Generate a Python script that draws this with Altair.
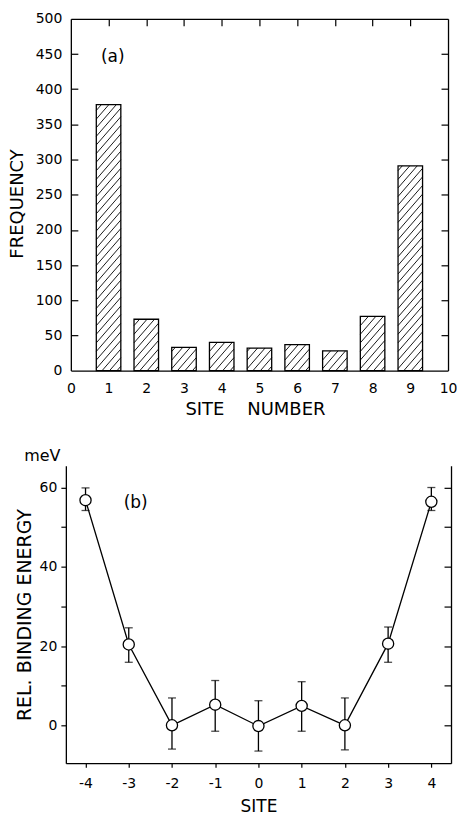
import altair as alt
import pandas as pd

FONT = "DejaVu Sans"

# ---------------- data ----------------
# Panel (a): histogram of site occupation
sites_a = [1, 2, 3, 4, 5, 6, 7, 8, 9]
freq_a = [378, 73, 33, 40, 32, 37, 28, 77, 291]

# Panel (b): relative binding energy with error bars
sites_b = [-4, -3, -2, -1, 0, 1, 2, 3, 4]
energy_b = [56.8, 20.4, 0.0, 5.2, -0.2, 4.9, 0.0, 20.6, 56.4]
err_hi_b = [59.9, 24.6, 6.9, 11.3, 6.2, 11.0, 6.9, 24.8, 60.0]
err_lo_b = [54.2, 15.9, -6.0, -1.5, -6.5, -1.5, -6.2, 15.9, 54.2]

x_ticks_a = list(range(0, 11))
y_ticks_a = list(range(0, 501, 50))
x_ticks_b = list(range(-4, 5))
y_ticks_b = list(range(0, 61, 10))

# ---------------- geometry ----------------
W_A, H_A = 378, 352.5
W_B, H_B = 381, 298
BAR_HALF = 0.325

df_a = pd.DataFrame({"site": sites_a, "freq": freq_a})
df_b = pd.DataFrame({"site": sites_b, "e": energy_b, "hi": err_hi_b, "lo": err_lo_b})

# hatch pattern lines for bars (derived from the bar data, in data units)
sx = W_A / 10.0
sy = H_A / 500.0
slope = 1.15
dh = 7.5
rows = []
for s, f in zip(sites_a, freq_a):
    X1 = (s - BAR_HALF) * sx
    w = 2 * BAR_HALF * sx
    h = f * sy
    ds = dh * slope
    k = -slope * w + ds * 0.5
    while k < h:
        u_lo = max(0.0, -k / slope)
        u_hi = min(w, (h - k) / slope)
        if u_hi > u_lo + 0.3:
            rows.append({
                "hx": (X1 + u_lo) / sx, "hy": (slope * u_lo + k) / sy,
                "hx2": (X1 + u_hi) / sx, "hy2": (slope * u_hi + k) / sy,
            })
        k += ds
df_h = pd.DataFrame(rows)

ann_a = pd.DataFrame({"x": [1.11], "y": [446], "t": ["(a)"]})
ann_b = pd.DataFrame({"x": [-2.84], "y": [56.2], "t": ["(b)"]})
unit_b = pd.DataFrame({"t": ["meV"]})

AX = dict(labelFont=FONT, labelFontSize=14, labelColor="black",
          domainColor="black", tickColor="black", domainWidth=1.3,
          tickWidth=1.2, grid=False, titleFont=FONT, titleFontSize=18,
          titleFontWeight="normal", titleColor="black", labelFlush=False)

# ---------------- panel (a) ----------------
xs_a = alt.Scale(domain=[0, 10], nice=False, zero=False)
ys_a = alt.Scale(domain=[0, 500], nice=False)

bars = alt.Chart(df_a).transform_calculate(
    x1="datum.site - 0.325", x2="datum.site + 0.325", base="0"
).mark_rect(fill="white", stroke="black", strokeWidth=1.3).encode(
    x=alt.X("x1:Q", scale=xs_a, axis=alt.Axis(
        orient="bottom", values=x_ticks_a, ticks=False, tickSize=0, labelPadding=11,
        title="SITE\u00a0\u00a0\u00a0\u00a0NUMBER", titleX=184.5, titleY=39,
        titleBaseline="middle", titleAlign="center", **AX)),
    x2="x2:Q",
    y=alt.Y("freq:Q", scale=ys_a, axis=alt.Axis(
        orient="left", values=y_ticks_a, ticks=False, tickSize=0, labelPadding=9,
        title="FREQUENCY", titleX=-53, titleY=185, titleAngle=270,
        titleBaseline="middle", titleAlign="center", **AX)),
    y2="base:Q",
)

hatch = alt.Chart(df_h).mark_rule(stroke="black", strokeWidth=0.9).encode(
    x=alt.X("hx:Q", scale=xs_a, axis=alt.Axis(
        orient="top", offset=-H_A, values=sites_a, labels=False, domain=False,
        tickSize=7, title=None, **AX)),
    x2="hx2:Q",
    y=alt.Y("hy:Q", scale=ys_a, axis=alt.Axis(
        orient="right", offset=-W_A, values=y_ticks_a[1:-1], labels=False,
        domain=False, tickSize=7, title=None, **AX)),
    y2="hy2:Q",
)

lab_a = alt.Chart(ann_a).mark_text(font=FONT, fontSize=17, align="center",
                                   baseline="middle", color="black").encode(
    x=alt.X("x:Q", scale=xs_a, axis=alt.Axis(
        orient="bottom", offset=-H_A, values=sites_a, labels=False,
        tickSize=7, title=None, **AX)),
    y=alt.Y("y:Q", scale=ys_a, axis=alt.Axis(
        orient="left", offset=-W_A, values=y_ticks_a[1:-1], labels=False,
        tickSize=7, title=None, **AX)),
    text="t:N",
)

top = alt.layer(bars, hatch, lab_a).resolve_axis(
    x="independent", y="independent"
).properties(width=W_A, height=H_A)

# ---------------- panel (b) ----------------
xs_b = alt.Scale(domain=[-4.455, 4.455], range=[-5, W_B], nice=False, zero=False)
ys_b = alt.Scale(domain=[-9.57, 65.46], nice=False, zero=False)

line = alt.Chart(df_b).mark_line(color="black", strokeWidth=1.3).encode(
    x=alt.X("site:Q", scale=xs_b, axis=alt.Axis(
        orient="bottom", values=x_ticks_b, tickSize=4, labelPadding=9,
        labelExpr="datum.value < 0 ? '-' + abs(datum.value) : datum.label",
        title="SITE", titleX=188, titleY=43, titleBaseline="middle",
        titleAlign="center", **{**AX, "titleFontSize": 17})),
    y=alt.Y("e:Q", scale=ys_b, axis=alt.Axis(
        orient="left", offset=5, values=y_ticks_b, tickSize=5, labelPadding=4,
        labelExpr="datum.value % 20 == 0 ? datum.label : ''",
        title="REL. BINDING ENERGY", titleX=-41, titleY=149, titleAngle=270,
        titleBaseline="middle", titleAlign="center",
        **{**AX, "titleFontSize": 19})),
)

errs = alt.Chart(df_b).mark_rule(color="black", strokeWidth=1.3).encode(
    x=alt.X("site:Q", scale=xs_b, axis=None),
    y=alt.Y("lo:Q", scale=ys_b, axis=alt.Axis(
        orient="left", offset=-W_B, values=y_ticks_b, labels=False,
        tickSize=7, title=None, **AX)),
    y2="hi:Q",
)

caps = alt.Chart(df_b).transform_fold(["lo", "hi"], as_=["k", "v"]).mark_tick(
    orient="horizontal", size=8, thickness=1.3, color="black"
).encode(
    x=alt.X("site:Q", scale=xs_b, axis=None),
    y=alt.Y("v:Q", scale=ys_b, axis=None),
)

pts = alt.Chart(df_b).mark_point(shape="circle", size=125, filled=True,
                                 fill="white", stroke="black", strokeWidth=1.3,
                                 opacity=1).encode(
    x=alt.X("site:Q", scale=xs_b, axis=None),
    y=alt.Y("e:Q", scale=ys_b, axis=None),
)

lab_b = alt.Chart(ann_b).mark_text(font=FONT, fontSize=17, align="center",
                                   baseline="middle", color="black").encode(
    x=alt.X("x:Q", scale=xs_b, axis=None),
    y=alt.Y("y:Q", scale=ys_b, axis=None),
    text="t:N",
)

unit = alt.Chart(unit_b).mark_text(font=FONT, fontSize=16, align="center",
                                   baseline="middle", color="black").encode(
    x=alt.value(-28.5), y=alt.value(-10), text="t:N",
)

bottom = alt.layer(line, errs, caps, pts, lab_b, unit).resolve_axis(
    x="independent", y="independent"
).properties(width=W_B, height=H_B)

chart = alt.vconcat(top, bottom, spacing=95, bounds="flush").properties(
    padding={"left": 9, "top": 11, "right": 0, "bottom": 0},
    background="white",
).configure_view(stroke=None)

chart.save("out.html", embed_options={"renderer": "svg", "actions": False})
